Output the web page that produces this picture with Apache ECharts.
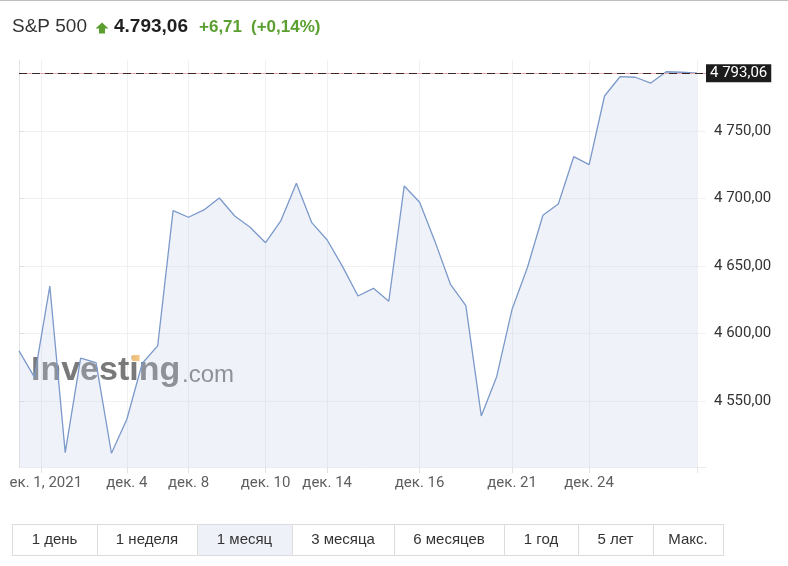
<!DOCTYPE html>
<html>
<head>
<meta charset="utf-8">
<script src="https://cdn.jsdelivr.net/npm/echarts@6/dist/echarts.min.js"></script>
<style>
html,body{margin:0;padding:0;background:#fff;}
#c{width:788px;height:566px;}
</style>
</head>
<body>
<div id="c"></div>
<script>
// ---------- DATA ----------
const instrument = 'S&P 500';
const lastPrice = 4793.06;
const changeAbs = '+6,71';
const changePct = '(+0,14%)';
const prices = [
  4587.1, 4567.6, 4635.2, 4511.7, 4581.7, 4578.4, 4511.2, 4536.4, 4577.9, 4590.8,
  4691.1, 4686.2, 4691.6, 4700.5, 4687.1, 4678.8, 4667.3, 4683.7, 4711.4, 4682.2,
  4669.3, 4649.6, 4627.8, 4633.5, 4623.9, 4709.4, 4697.3, 4668.1, 4636.5, 4620.6,
  4538.9, 4568.0, 4618.0, 4649.1, 4687.7, 4696.0, 4731.1, 4725.2, 4776.1, 4790.4,
  4790.0, 4785.7, 4794.1, 4793.7, 4793.06
];
const xTickIndex = [1.45, 7, 11, 16, 20, 26, 32, 37, 44];
const xTickLabels = ['дек. 1, 2021', 'дек. 4', 'дек. 8', 'дек. 10', 'дек. 14', 'дек. 16', 'дек. 21', 'дек. 24', ''];
const yTickValues = [4550, 4600, 4650, 4700, 4750];
const rangeLabels = ['1 день', '1 неделя', '1 месяц', '3 месяца', '6 месяцев', '1 год', '5 лет', 'Макс.'];
const selectedRange = 2;
const watermarkMain = 'Investing';
const watermarkSuffix = '.com';

// ---------- LAYOUT ----------
const rangeEdges = [12, 97, 197, 292, 394, 504, 578, 653, 723];
const GREEN = '#5a9f2f';

function fmt(v) {
  const s = v.toFixed(2).split('.');
  return s[0].replace(/\B(?=(\d{3})+(?!\d))/g, ' ') + ',' + s[1];
}
function fmtDot(v) {
  const s = v.toFixed(2).split('.');
  return s[0].replace(/\B(?=(\d{3})+(?!\d))/g, '.') + ',' + s[1];
}

const chart = echarts.init(document.getElementById('c'), null, {renderer: 'canvas'});

const graphics = [];
// top border
graphics.push({type: 'rect', shape: {x: 0, y: 0, width: 788, height: 1}, style: {fill: '#bdbdbd'}, silent: true});
// left crop edge of the original widget (hides the cut-off part of the first date label)
graphics.push({type: 'rect', z: 100, shape: {x: 0, y: 472, width: 9, height: 22}, style: {fill: '#fff'}, silent: true});
// header
graphics.push({type: 'text', x: 12, y: 27, style: {text: instrument, font: '19px "Liberation Sans", Arial, sans-serif', fill: '#333', verticalAlign: 'middle'}});
graphics.push({type: 'polygon', shape: {points: [[102, 22.5], [108.5, 28.5], [105, 28.5], [105, 33.5], [99, 33.5], [99, 28.5], [95.5, 28.5]]}, style: {fill: GREEN}});
graphics.push({type: 'text', x: 114, y: 27, style: {text: fmtDot(lastPrice), font: 'bold 19px "Liberation Sans", Arial, sans-serif', fill: '#1f1f1f', verticalAlign: 'middle'}});
graphics.push({type: 'text', x: 199, y: 27.5, style: {text: changeAbs, font: 'bold 17px "Liberation Sans", Arial, sans-serif', fill: GREEN, verticalAlign: 'middle'}});
graphics.push({type: 'text', x: 251, y: 27.5, style: {text: changePct, font: 'bold 17px "Liberation Sans", Arial, sans-serif', fill: GREEN, verticalAlign: 'middle'}});
// watermark
graphics.push({type: 'text', x: 31, y: 371, z: 1, style: {text: watermarkMain, font: 'bold 34px "Liberation Sans", Arial, sans-serif', fill: '#6a6a6a', opacity: 0.9, verticalAlign: 'middle'}});
graphics.push({type: 'rect', z: 1, shape: {x: 132, y: 355, width: 7.5, height: 6}, style: {fill: '#f3c27a', opacity: 0.95}});
graphics.push({type: 'text', x: 182, y: 375, z: 1, style: {text: watermarkSuffix, font: '24px "Liberation Sans", Arial, sans-serif', fill: '#6a6a6a', opacity: 0.9, verticalAlign: 'middle'}});
// range buttons
for (let i = 0; i < rangeLabels.length; i++) {
  const x0 = rangeEdges[i], x1 = rangeEdges[i + 1];
  graphics.push({type: 'rect', shape: {x: x0 + 0.5, y: 524.5, width: x1 - x0, height: 31},
    style: {fill: i === selectedRange ? '#eef2f8' : '#fff', stroke: '#dcdcdc', lineWidth: 1}});
  graphics.push({type: 'text', x: (x0 + x1) / 2, y: 540, style: {text: rangeLabels[i], font: '15px "Liberation Sans", Arial, sans-serif', fill: '#333', align: 'center', verticalAlign: 'middle'}});
}

chart.setOption({
  animation: false,
  backgroundColor: '#fff',
  grid: {left: 19, right: 82, top: 60, bottom: 99, containLabel: false, outerBoundsMode: 'none'},
  xAxis: {
    type: 'value',
    min: 0,
    max: 44 * 687 / 678,
    axisLine: {show: true, lineStyle: {color: '#ececec'}},
    axisTick: {show: true, customValues: xTickIndex, length: 6, lineStyle: {color: '#e2e2e2'}},
    splitLine: {show: true, lineStyle: {color: '#eef0f4', width: 1}},
    axisLabel: {
      customValues: xTickIndex,
      margin: 9,
      fontSize: 15,
      fontFamily: 'Roboto, sans-serif',
      color: '#5f5f5f',
      formatter: function (v) {
        let idx = -1;
        for (let i = 0; i < xTickIndex.length; i++) if (Math.abs(xTickIndex[i] - v) < 1e-6) idx = i;
        return idx < 0 ? '' : xTickLabels[idx];
      }
    }
  },
  yAxis: {
    type: 'value',
    position: 'right',
    min: 4501,
    max: 4802.8,
    axisLine: {show: true, lineStyle: {color: '#e4e4e4'}},
    axisTick: {show: true, customValues: yTickValues, length: 5, lineStyle: {color: '#dedede'}},
    splitLine: {show: true, lineStyle: {color: '#f1f1f1'}},
    axisLabel: {
      customValues: yTickValues,
      margin: 8,
      fontSize: 15,
      fontFamily: 'Roboto, sans-serif',
      color: '#333',
      formatter: function (v) { return fmt(v); }
    }
  },
  series: [{
    type: 'line',
    data: prices.map(function (v, i) { return [i, v]; }),
    symbol: 'none',
    z: 3,
    lineStyle: {color: '#7b99ca', width: 1.3},
    areaStyle: {color: 'rgba(196,207,230,0.4)', origin: 'start'},
    markLine: {
      silent: true,
      symbol: 'none',
      animation: false,
      data: [
        {yAxis: lastPrice, lineStyle: {color: '#e6aab2', type: 'solid', width: 1}, label: {show: false}},
        {yAxis: lastPrice, lineStyle: {color: '#3b2727', type: [8, 5], width: 1.2},
          label: {show: true, position: 'end', distance: 0, formatter: function () { return fmt(lastPrice); },
            backgroundColor: '#1c1c1c', color: '#fff', fontSize: 15, fontFamily: 'Roboto, sans-serif',
            padding: [2, 4, 1, 4], borderRadius: 0}}
      ]
    }
  }],
  graphic: graphics
});
</script>
</body>
</html>
